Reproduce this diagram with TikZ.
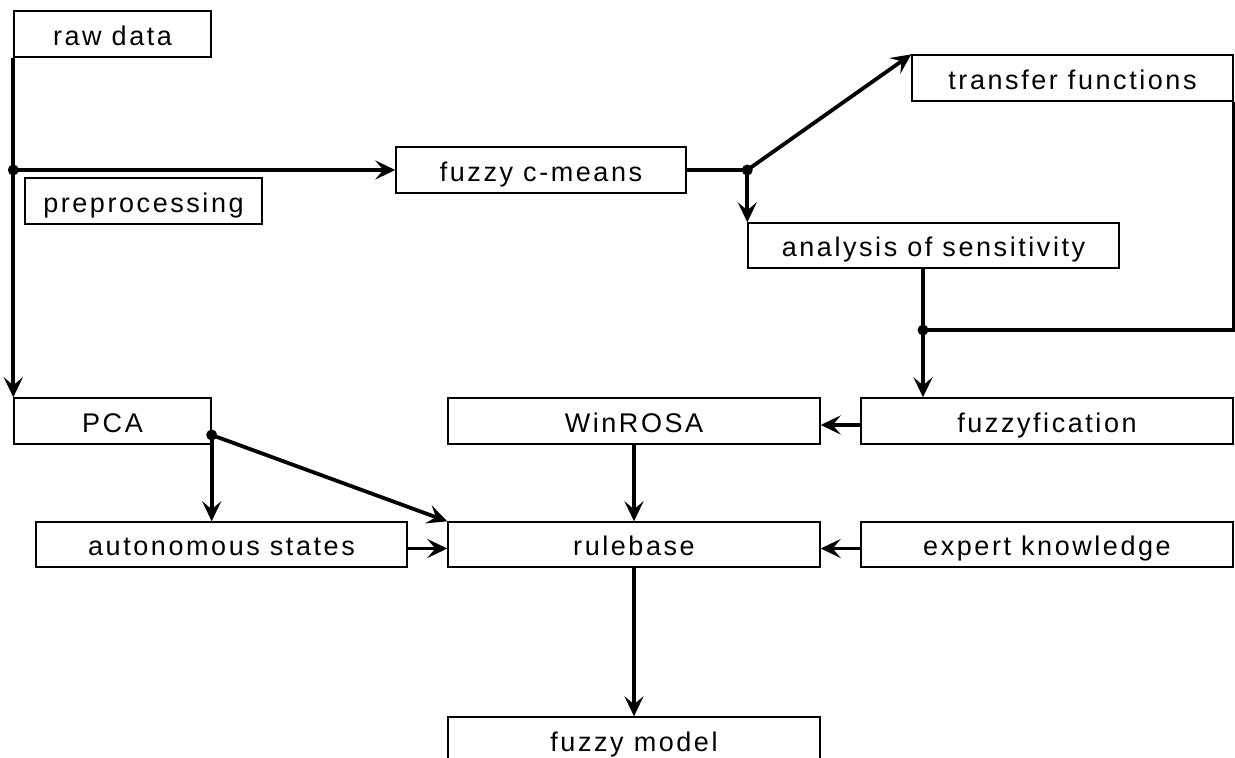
\documentclass[tikz,border=0pt]{standalone}
\usepackage{fontspec}
\setmainfont{Liberation Sans}[LetterSpace=9.5]
\usetikzlibrary{arrows.meta,calc}
\begin{document}
\begin{tikzpicture}[x=1pt,y=-1pt,
  box/.style={draw, line width=1.4pt, inner sep=0pt, minimum height=46pt,
    text height=22pt, text depth=0pt,
    font=\fontsize{27pt}{30pt}\selectfont},
  conn/.style={line width=3.8pt},
  arr/.style={line width=3.8pt, -{Stealth[length=20pt, width=19pt, inset=8pt]}},
  dot/.style={fill=black}]
\useasboundingbox (0,0) rectangle (1235,758);
\clip (0,0) rectangle (1235,758);
\fill[white] (0,0) rectangle (1235,758);

\node[box, minimum width=197pt] (raw) at (112.5,34) {raw data};
\node[box, minimum width=237pt] (pre) at (143.5,201) {preprocessing};
\node[box, minimum width=290pt] (fcm) at (541,170) {fuzzy c-means};
\node[box, minimum width=321pt] (tf) at (1072.5,78) {transfer functions};
\node[box, minimum width=371pt, minimum height=45pt] (ana) at (933.5,245.5) {analysis of sensitivity};
\node[box, minimum width=197pt] (pca) at (112.5,421) {PCA};
\node[box, minimum width=372pt] (win) at (634,421) {WinROSA};
\node[box, minimum width=372pt] (fzf) at (1047,421) {fuzzyfication};
\node[box, minimum width=371pt, minimum height=45pt] (aut) at (221.5,544.5) {autonomous states};
\node[box, minimum width=372pt, minimum height=45pt] (rule) at (634,544.5) {rulebase};
\node[box, minimum width=372pt, minimum height=45pt] (exp) at (1047,544.5) {expert knowledge};
\node[box, minimum width=372pt] (fm) at (634,740) {fuzzy model};

\coordinate (j1) at (raw.south west |- fcm.west);
\coordinate (j2) at (ana.north west |- fcm.east);
\coordinate (j3) at (923,330);
\coordinate (j4) at ([yshift=-14pt]pca.east);

% raw data -> PCA, branch to fuzzy c-means
\draw[arr] (raw.south west) -- (pca.north west);
\draw[arr] (j1) -- (fcm.west);
\fill[dot] (j1) circle (5.5pt);

% fuzzy c-means -> transfer functions / analysis
\draw[conn] (fcm.east) -- (j2);
\draw[arr] (j2) -- (tf.north west);
\draw[arr] (j2) -- (ana.north west);
\fill[dot] (j2) circle (5.5pt);

% analysis + transfer -> fuzzyfication
\draw[conn] (j3 |- ana.south) -- (j3);
\draw[conn] (tf.south east) |- (j3);
\draw[arr] (j3) -- (j3 |- fzf.north);
\fill[dot] (j3) circle (5.5pt);

% fuzzyfication -> WinROSA -> rulebase
\draw[arr] ([yshift=-4pt]fzf.west) -- ([yshift=-4pt]win.east);
\draw[arr] (win.south) -- (rule.north);

% expert knowledge / autonomous states -> rulebase
\draw[arr] ([yshift=-4pt]exp.west) -- ([yshift=-4pt]rule.east);
\draw[arr] ([yshift=-4pt]aut.east) -- ([yshift=-4pt]rule.west);

% PCA -> autonomous states / rulebase
\draw[arr] (j4) -- (j4 |- aut.north);
\draw[arr] (j4) -- (rule.north west);
\fill[dot] (j4) circle (5.5pt);

% rulebase -> fuzzy model
\draw[arr] (rule.south) -- (fm.north);
\end{tikzpicture}
\end{document}
